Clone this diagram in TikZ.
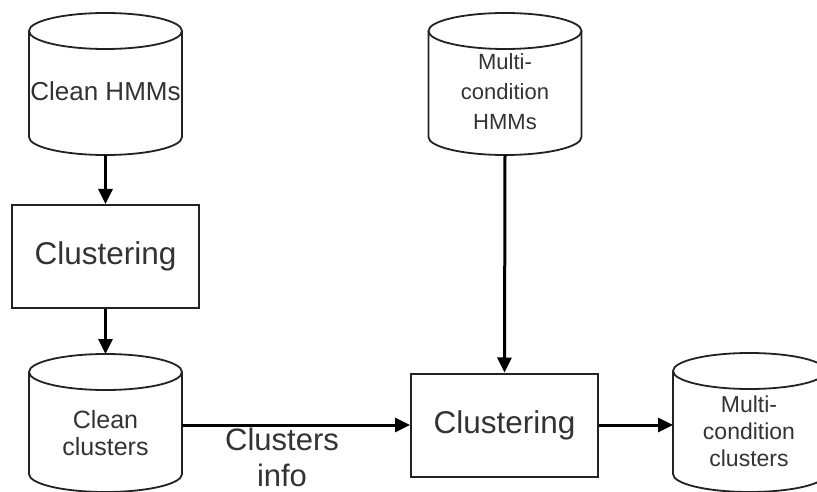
\documentclass[tikz,border=0pt]{standalone}
\usepackage{fontspec}
\setmainfont{Liberation Sans}
\usetikzlibrary{calc,arrows.meta}
\definecolor{txt}{HTML}{333333}
\definecolor{edge}{HTML}{222222}
\tikzset{
  frame/.style={draw=none,inner sep=0pt,outer sep=0pt,minimum width=153pt},
  procbox/.style={draw=edge,line width=2pt,inner sep=0pt,outer sep=1pt,minimum width=187pt,minimum height=103pt,text=txt,font=\fontsize{31.5}{36}\selectfont},
  cylline/.style={draw=edge,line width=1.8pt},
  lbl/.style={text=txt,align=center,inner sep=0pt},
  flow/.style={draw=black,line width=3pt,-{Triangle[length=15pt,width=14pt]}}
}
\newcommand\cylshape[1]{%
  \draw[cylline] ($(#1.north west)+(0,-18)$) -- ($(#1.south west)+(0,18)$)
    arc[start angle=180,end angle=360,x radius=76.5,y radius=18]
    -- ($(#1.north east)+(0,-18)$);
  \draw[cylline,fill=white] ($(#1.north)+(0,-18)$) ellipse[x radius=76.5,y radius=18];
}
\begin{document}
\begin{tikzpicture}[x=1pt,y=1pt]
\useasboundingbox[fill=white] (0,0) rectangle (817,-492);
% cylinders (frames)
\node[frame,minimum height=142pt] (c1) at (105.5,-84) {};
\node[frame,minimum height=142pt] (c4) at (505,-84) {};
\node[frame,minimum height=138pt] (c2) at (105.5,-423) {};
\node[frame,minimum height=139pt] (c3) at (749.5,-422.5) {};
\cylshape{c1}
\cylshape{c4}
\cylshape{c2}
\cylshape{c3}
% cylinder texts
\node[lbl,font=\fontsize{26}{30}\selectfont] (t1) at (105.5,-91) {Clean HMMs};
\node[lbl,font=\fontsize{22}{30}\selectfont] (t4) at (505,-92) {Multi-\\condition\\HMMs};
\node[lbl,font=\fontsize{25}{27}\selectfont] (t2) at (105.5,-433) {Clean\\clusters};
\node[lbl,font=\fontsize{23}{27}\selectfont] (t3) at (749,-431) {Multi-\\condition\\clusters};
% process boxes
\node[procbox] (b1) at (105.5,-256.5) {Clustering};
\node[procbox] (b2) at (504.5,-425) {Clustering};
% label
\node[lbl,font=\fontsize{31}{36}\selectfont] (info) at (282,-457) {Clusters\\info};
% connectors
\draw[flow] (c1.south) -- (b1.north);
\draw[flow] (b1.south) -- (c2.north);
\draw[flow] (c2.east |- b2.west) -- (b2.west);
\draw[flow] (c4.south) -- (b2.north);
\draw[flow] (b2.east) -- (b2.east -| c3.west);
\end{tikzpicture}
\end{document}
